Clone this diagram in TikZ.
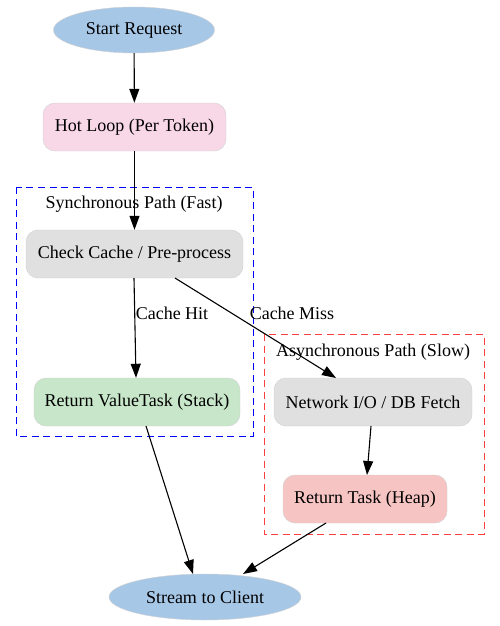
\documentclass[tikz,border=0pt]{standalone}
\usepackage{fontspec}
\setmainfont{Liberation Serif}
\usetikzlibrary{arrows.meta,shapes.geometric}
\definecolor{blueell}{HTML}{A7C7E7}
\definecolor{pinkbox}{HTML}{F8D7E6}
\definecolor{graybox}{HTML}{E0E0E0}
\definecolor{greenbox}{HTML}{C8E6C9}
\definecolor{redbox}{HTML}{F7C4C4}
\definecolor{edgegray}{HTML}{D0D0D0}
\tikzset{
  x=1pt,y=-1pt,
  every node/.style={font=\fontsize{18}{20}\selectfont},
  ell/.style={ellipse,draw=edgegray,fill=blueell,inner sep=0pt},
  rbox/.style={rectangle,rounded corners=12pt,draw=edgegray,inner sep=0pt,minimum height=48pt},
  arr/.style={-{Triangle[length=14pt,width=10pt]},line width=1.1pt},
  lbl/.style={font=\fontsize{18}{20}\selectfont},
  cl/.style={dash pattern=on 7pt off 4.5pt,line width=1pt}
}
\begin{document}
\begin{tikzpicture}
\useasboundingbox (0,0) rectangle (499,626);
% clusters
\draw[cl,blue] (16,187) rectangle (253,436);
\node[lbl] (synclbl) at (134,204) {Synchronous Path (Fast)};
\draw[cl,red!75] (264,334) rectangle (484,534);
\node[lbl] (asynclbl) at (373,352) {Asynchronous Path (Slow)};
% nodes
\node[ell,minimum width=161pt,minimum height=46pt] (start) at (134,30) {Start Request};
\node[rbox,fill=pinkbox,minimum width=183pt] (hot) at (134.5,127) {Hot Loop (Per Token)};
\node[rbox,fill=graybox,minimum width=217pt] (check) at (134.5,254) {Check Cache / Pre-process};
\node[rbox,fill=greenbox,minimum width=206pt] (rvt) at (137,402) {Return ValueTask (Stack)};
\node[rbox,fill=graybox,minimum width=198pt] (net) at (373,402) {Network I/O / DB Fetch};
\node[rbox,fill=redbox,minimum width=164pt] (rt) at (365,499) {Return Task (Heap)};
\node[ell,minimum width=192pt,minimum height=46pt] (stream) at (205,597) {Stream to Client};
% edges
\draw[arr] (start) -- (hot);
\draw[arr] (hot) -- (check);
\draw[arr] (check.south -| 134,0) -- (rvt.north -| 136,0);
\node[lbl] (hitlbl) at (172,313) {Cache Hit};
\coordinate (cms) at (175,278);
\coordinate (cme) at (336,378);
\draw[arr] (cms) -- (cme);
\node[lbl] (misslbl) at (292,313) {Cache Miss};
\coordinate (ns) at (371,426);
\coordinate (ne) at (367,475);
\draw[arr] (ns) -- (ne);
\coordinate (rs) at (146,426);
\coordinate (re) at (193,574);
\draw[arr] (rs) -- (re);
\coordinate (ts) at (326,523);
\coordinate (te) at (243,574);
\draw[arr] (ts) -- (te);
\end{tikzpicture}
\end{document}
